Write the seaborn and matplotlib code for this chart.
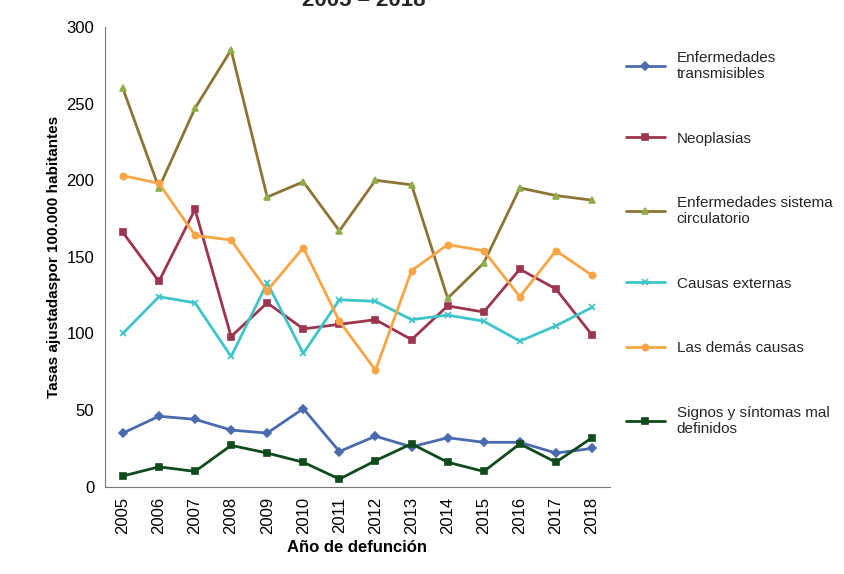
import pandas as pd
import matplotlib.pyplot as plt
import seaborn as sns

years = list(range(2005, 2019))
transmisibles = [35, 46, 44, 37, 35, 51, 23, 33, 26, 32, 29, 29, 22, 25]
neoplasias = [166, 134, 181, 98, 120, 103, 106, 109, 96, 118, 114, 142, 129, 99]
circulatorio = [260, 195, 247, 285, 189, 199, 167, 200, 197, 123, 146, 195, 190, 187]
externas = [100, 124, 120, 85, 133, 87, 122, 121, 109, 112, 108, 95, 105, 117]
demas = [203, 198, 164, 161, 128, 156, 108, 76, 141, 158, 154, 124, 154, 138]
signos = [7, 13, 10, 27, 22, 16, 5, 17, 28, 16, 10, 28, 16, 32]

series = [
    ("Enfermedades\ntransmisibles", transmisibles, "#4A6AAE", "#4A6AAE", "D"),
    ("Neoplasias", neoplasias, "#9B3550", "#9B3550", "s"),
    ("Enfermedades sistema\ncirculatorio", circulatorio, "#8C7434", "#8FAE4A", "^"),
    ("Causas externas", externas, "#3EC4C9", "#3EC4C9", "x"),
    ("Las demás causas", demas, "#F7A545", "#F7A545", "o"),
    ("Signos y síntomas mal\ndefinidos", signos, "#0F4A1C", "#0F4A1C", "s"),
]

sns.set_style("white")
plt.rcParams['font.family'] = ['Liberation Sans', 'DejaVu Sans']

fig = plt.figure(figsize=(8.45, 5.74), dpi=100)
ax = fig.add_axes([0.124, 0.152, 0.598, 0.801])

for name, vals, lc, mc, mk in series:
    df = pd.DataFrame({"year": years, "v": vals})
    sns.lineplot(data=df, x="year", y="v", ax=ax, color=lc, marker=mk,
                 markerfacecolor=mc, markeredgecolor=mc, markersize=4.5,
                 linewidth=2, label=name, mew=1.2)

ax.set_xlim(2004.5, 2018.5)
ax.set_ylim(0, 300)
ax.set_yticks(range(0, 301, 50))
ax.set_xticks(years)
ax.set_xticklabels([str(y) for y in years], rotation=90, fontsize=12, color="black")
ax.tick_params(axis="y", labelsize=12, labelcolor="black")
ax.set_xlabel("Año de defunción", fontsize=12, fontweight="bold", color="black")
ax.set_ylabel("Tasas ajustadaspor 100.000 habitantes", fontsize=11,
              fontweight="bold", color="black")
for s in ["top", "right"]:
    ax.spines[s].set_visible(False)
for s in ["left", "bottom"]:
    ax.spines[s].set_color("#777777")
ax.tick_params(axis="both", which="both", length=4, direction="out", color="#777777")

h, l = ax.get_legend_handles_labels()
ax.legend_.remove()
fig.legend(h, l, loc="upper left", bbox_to_anchor=(0.725, 0.935), frameon=False,
           fontsize=11, labelspacing=3.3, handlelength=2.5)

fig.text(0.43, 1.0, "2005 – 2018", ha="center", va="center",
         fontsize=16, fontweight="bold")
fig.savefig("out.png", dpi=100)
